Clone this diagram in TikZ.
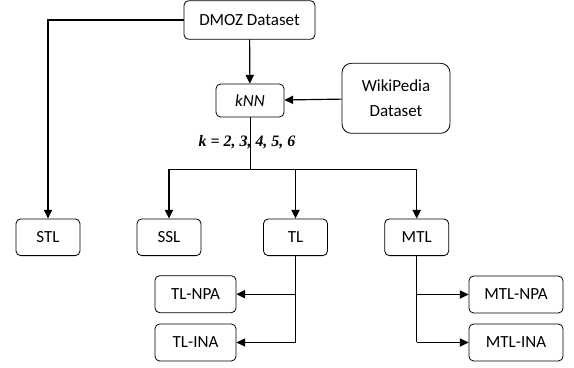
\documentclass[tikz,border=0pt]{standalone}
\usepackage{fontspec}
\setmainfont{Carlito}
\newfontfamily\serifk{Liberation Serif}
\usetikzlibrary{arrows.meta}
\begin{document}
\begin{tikzpicture}[x=0.03cm, y=-0.03cm,
    box/.style={draw, rounded corners=4pt, line width=0.7pt, inner sep=0pt,
        minimum width=1.92cm, minimum height=1.1cm, font=\fontsize{14.5}{17}\selectfont},
    arr/.style={line width=1pt, -{Triangle[length=7.4pt,width=7pt]}},
    ln/.style={line width=0.8pt}]
    \useasboundingbox (0,0) rectangle (574,368);
    %Datensaetze
    \node[box, minimum width=3.93cm, minimum height=1.16cm] (dmoz) at (249.5,20) {DMOZ Dataset};
    \node[box, minimum width=2.04cm, minimum height=0.99cm] (knn) at (250,100.5) {\textit{kNN}};
    \node[box, rounded corners=8pt, minimum width=3.24cm, minimum height=2.1cm,
        align=center] (wiki) at (396,98.3) {WikiPedia\\[4pt]Dataset};
    %Verfahren
    \node[box] (stl) at (48,237.3) {STL};
    \node[box] (ssl) at (169,237.3) {SSL};
    \node[box] (tl)  at (295.5,237.3) {TL};
    \node[box] (mtl) at (416.7,237.3) {MTL};
    %Varianten
    \node[box, minimum width=2.43cm, minimum height=1.11cm] (tlnpa) at (195.5,294.2) {TL-NPA};
    \node[box, minimum width=2.43cm, minimum height=1.11cm] (tlina) at (195.5,342.5) {TL-INA};
    \node[box, minimum width=2.82cm, minimum height=1.11cm] (mtlnpa) at (516,294.5) {MTL-NPA};
    \node[box, minimum width=2.82cm, minimum height=1.11cm] (mtlina) at (516,342.5) {MTL-INA};
    %Verbindungen
    \draw[arr] (dmoz) -- (knn);
    \draw[arr] (wiki) -- (knn);
    \draw[arr] (dmoz.west) -| (stl.north);
    \coordinate (bar) at (knn.south |- 0,169.3);
    \draw[ln] (knn.south) -- (bar);
    \draw[ln] (ssl.north |- bar) -- (mtl.north |- bar);
    \draw[arr] (ssl.north |- bar) -- (ssl.north);
    \draw[arr] (tl.north |- bar) -- (tl.north);
    \draw[arr] (mtl.north |- bar) -- (mtl.north);
    \draw[ln] (tl.south) -- (tl.south |- tlina.east);
    \draw[arr] (tl.south |- tlnpa.east) -- (tlnpa.east);
    \draw[arr] (tl.south |- tlina.east) -- (tlina.east);
    \draw[ln] (mtl.south) -- (mtl.south |- mtlina.west);
    \draw[arr] (mtl.south |- mtlnpa.west) -- (mtlnpa.west);
    \draw[arr] (mtl.south |- mtlina.west) -- (mtlina.west);
    %Parameter
    \node (kval) at (247,142) {\serifk\bfseries\itshape\fontsize{13.6}{16}\selectfont k = 2, 3, 4, 5, 6};
\end{tikzpicture}
\end{document}
